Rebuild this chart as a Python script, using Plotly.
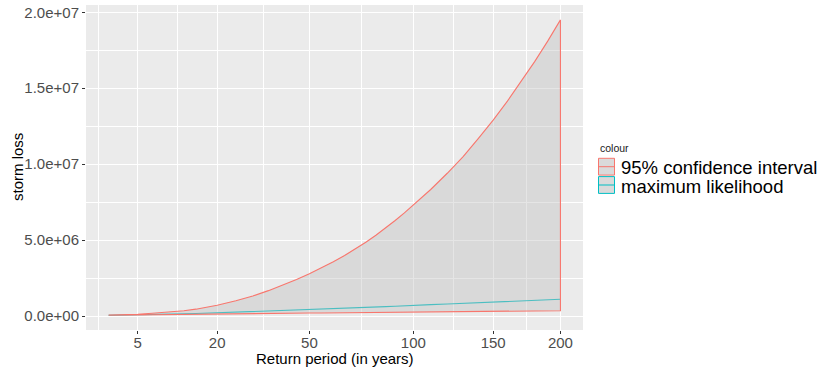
import numpy as np
import plotly.graph_objects as go

# Return periods (years) and estimated storm losses
return_period = [2, 3, 4, 5, 7, 10, 12.5, 15, 17.5, 20, 25, 30, 35, 40, 45, 50,
                 55, 60, 65, 70, 75, 80, 85, 90, 95, 100, 110, 120, 130, 140,
                 150, 160, 170, 180, 190, 200]
ci_upper = [5.5e4, 7.0e4, 9.0e4, 1.15e5, 1.8e5, 2.7e5, 3.5e5, 4.5e5, 5.8e5,
            7.1e5, 1.0e6, 1.32e6, 1.67e6, 2.03e6, 2.4e6, 2.78e6, 3.17e6,
            3.57e6, 3.98e6, 4.42e6, 4.86e6, 5.32e6, 5.8e6, 6.29e6, 6.79e6,
            7.3e6, 8.33e6, 9.4e6, 1.05e7, 1.17e7, 1.29e7, 1.415e7, 1.545e7,
            1.675e7, 1.81e7, 1.95e7]
ci_lower = [4.5e4, 5.0e4, 5.5e4, 6.0e4, 7.0e4, 8.5e4, 9.5e4, 1.05e5, 1.15e5,
            1.25e5, 1.4e5, 1.55e5, 1.65e5, 1.75e5, 1.85e5, 1.95e5, 2.0e5,
            2.1e5, 2.15e5, 2.2e5, 2.25e5, 2.3e5, 2.35e5, 2.4e5, 2.45e5, 2.5e5,
            2.6e5, 2.7e5, 2.8e5, 2.9e5, 3.0e5, 3.1e5, 3.2e5, 3.3e5, 3.4e5,
            3.5e5]
ml_estimate = [4.8e4, 5.5e4, 6.5e4, 7.5e4, 9.5e4, 1.2e5, 1.4e5, 1.6e5, 1.85e5,
               2.05e5, 2.4e5, 2.75e5, 3.05e5, 3.4e5, 3.75e5, 4.1e5, 4.4e5,
               4.7e5, 4.95e5, 5.2e5, 5.5e5, 5.8e5, 6.15e5, 6.45e5, 6.8e5,
               7.1e5, 7.5e5, 7.9e5, 8.3e5, 8.7e5, 9.05e5, 9.45e5, 9.85e5,
               1.025e6, 1.065e6, 1.1e6]

x_breaks = [5, 20, 50, 100, 150, 200]
y_breaks = [0, 5e6, 1e7, 1.5e7, 2e7]
y_labels = ["0.0e+00", "5.0e+06", "1.0e+07", "1.5e+07", "2.0e+07"]

legend_labels = ["95% confidence interval", "maximum likelihood"]
legend_colours = ["#F8766D", "#00BFC4"]

RED, TEAL = legend_colours
FONT = "Liberation Sans, Arial, sans-serif"

# square-root scale on x
sx = np.sqrt(np.array(return_period, dtype=float))
major_t = np.sqrt(np.array(x_breaks, dtype=float))
minor_t = list((major_t[:-1] + major_t[1:]) / 2)
minor_t.insert(0, major_t[0] - (major_t[1] - major_t[0]) / 2)
minor_y = [2.5e6, 7.5e6, 1.25e7, 1.75e7]

fig = go.Figure()

# maximum likelihood line
fig.add_trace(go.Scatter(
    x=sx, y=ml_estimate, mode="lines",
    line=dict(color=TEAL, width=1.1), showlegend=False, hoverinfo="skip"))

# confidence ribbon as closed polygon
poly_x = list(sx) + list(sx[::-1])
poly_y = list(ci_upper) + list(ci_lower[::-1])
fig.add_trace(go.Scatter(
    x=poly_x, y=poly_y, mode="lines", fill="toself",
    fillcolor="rgba(190,190,190,0.40)",
    line=dict(color=RED, width=1.1), showlegend=False, hoverinfo="skip"))

# panel geometry in pixels
W, H = 830, 371
L, R, T, B = 86, 583, 5, 330
pw, ph = R - L, B - T


def px(xp):
    return (xp - L) / pw


def py(yp):
    return (B - yp) / ph


shapes = []
annotations = []

# legend
annotations.append(dict(text="colour", x=px(598), y=py(148), xref="paper",
                        yref="paper", xanchor="left", yanchor="middle",
                        showarrow=False,
                        font=dict(family=FONT, size=10.5, color="#1A1A1A")))
key_top = 158.3
key_h = 18.3
for i, (lab, col) in enumerate(zip(legend_labels, legend_colours)):
    y0 = key_top + i * key_h
    y1 = y0 + key_h - 1.5
    shapes.append(dict(type="rect", xref="paper", yref="paper",
                       x0=px(598.5), x1=px(614.5), y0=py(y1), y1=py(y0),
                       fillcolor="#DADADA", line=dict(color=col, width=1)))
    ym = (y0 + y1) / 2
    shapes.append(dict(type="line", xref="paper", yref="paper",
                       x0=px(598.5), x1=px(614.5), y0=py(ym), y1=py(ym),
                       line=dict(color=col, width=1)))
    annotations.append(dict(text=lab, x=px(619), y=py(ym + 0.5), xref="paper",
                            yref="paper", xanchor="left", yanchor="middle",
                            height=18, valign="middle", showarrow=False,
                            font=dict(family=FONT, size=18.5, color="#000000")))

# axis titles
annotations.append(dict(text="Return period (in years)", x=0.5, y=py(358),
                        xref="paper", yref="paper", xanchor="center",
                        yanchor="middle", showarrow=False,
                        font=dict(family=FONT, size=15, color="#000000")))
annotations.append(dict(text="storm loss", x=px(17.5), y=0.5, textangle=-90,
                        xref="paper", yref="paper", xanchor="center",
                        yanchor="middle", showarrow=False,
                        font=dict(family=FONT, size=15, color="#000000")))

fig.update_layout(
    width=W, height=H,
    margin=dict(l=L, r=W - R, t=T, b=H - B, pad=0),
    paper_bgcolor="white",
    plot_bgcolor="#EBEBEB",
    showlegend=False,
    shapes=shapes,
    annotations=annotations,
    font=dict(family=FONT),
)

fig.update_xaxes(
    range=[0.778, 14.778],
    tickmode="array", tickvals=list(major_t), ticktext=[str(b) for b in x_breaks],
    showgrid=True, gridcolor="white", gridwidth=1.1,
    minor=dict(tickvals=minor_t, showgrid=True, gridcolor="white",
               gridwidth=0.55),
    zeroline=False, showline=False,
    ticks="outside", ticklen=3, tickcolor="#333333", tickwidth=1,
    ticklabelstandoff=-4,
    tickfont=dict(family=FONT, size=15, color="#4D4D4D"),
)
fig.update_yaxes(
    range=[-9.22e5, 2.048e7],
    tickmode="array", tickvals=y_breaks, ticktext=y_labels,
    showgrid=True, gridcolor="white", gridwidth=1.1,
    minor=dict(tickvals=minor_y, showgrid=True, gridcolor="white",
               gridwidth=0.55),
    zeroline=False, showline=False,
    ticks="outside", ticklen=3, tickcolor="#333333", tickwidth=1,
    tickfont=dict(family=FONT, size=15, color="#4D4D4D"),
)

fig.write_html("out.html")
